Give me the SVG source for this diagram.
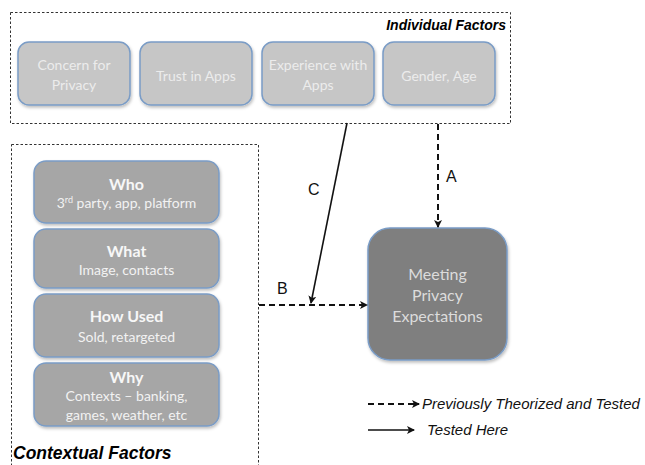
<svg xmlns="http://www.w3.org/2000/svg" width="645" height="465" viewBox="0 0 645 465">
<style>
.frame{fill:none;stroke:#333;stroke-width:1;stroke-dasharray:2.5,2}
.top{fill:#c6c6c6;stroke:#7a9cc6;stroke-width:1.5}
.ctx{fill:#a6a6a6;stroke:#7a9cc6;stroke-width:1.5}
.out{fill:#7f7f7f;stroke:#7a9cc6;stroke-width:1.5}
.tt{font-family:Lato,"Open Sans",sans-serif;font-size:14px;fill:#ececec;text-anchor:middle}
.ct{font-family:Lato,"Open Sans",sans-serif;font-size:14px;fill:#f2f2f2;text-anchor:middle}
.ch{font-family:Lato,"Open Sans",sans-serif;font-size:16px;font-weight:bold;fill:#f7f7f7;text-anchor:middle}
.ot{font-family:Lato,"Open Sans",sans-serif;font-size:16px;fill:#dcdcdc;text-anchor:middle}
.lab{font-family:"Liberation Sans",Arial,sans-serif;font-size:16px;fill:#111}
.ttl{font-family:"Liberation Sans",Arial,sans-serif;font-weight:bold;font-style:italic;fill:#000}
.leg{font-family:"Liberation Sans",Arial,sans-serif;font-style:italic;font-size:15px;fill:#111}
.dash{fill:none;stroke:#111;stroke-width:2;stroke-dasharray:6,4}
.solid{fill:none;stroke:#111;stroke-width:1.6}
</style>
<defs>
<marker id="ah" markerWidth="8" markerHeight="8" refX="7" refY="4" orient="auto" markerUnits="userSpaceOnUse">
<path d="M0,0 L8,4 L0,8 L2,4 Z" fill="#111"/>
</marker>
<filter id="sh" x="-10%" y="-10%" width="125%" height="130%">
<feDropShadow dx="1" dy="2" stdDeviation="1.5" flood-color="#000" flood-opacity="0.25"/>
</filter>
</defs>

<g id="individual-factors">
<rect class="frame" x="10.5" y="12.5" width="500" height="111"/>
<text class="ttl" x="506" y="30" font-size="14" text-anchor="end">Individual Factors</text>
</g>
<g id="concern">
<rect class="top" x="18" y="42" width="112" height="63" rx="11" filter="url(#sh)"/>
<text class="tt" x="74" y="70">Concern for</text>
<text class="tt" x="74" y="90">Privacy</text>
</g>
<g id="trust">
<rect class="top" x="140" y="42" width="112" height="63" rx="11" filter="url(#sh)"/>
<text class="tt" x="196" y="81">Trust in Apps</text>
</g>
<g id="experience">
<rect class="top" x="262" y="42" width="112" height="63" rx="11" filter="url(#sh)"/>
<text class="tt" x="318" y="70">Experience with</text>
<text class="tt" x="318" y="90">Apps</text>
</g>
<g id="gender">
<rect class="top" x="383" y="42" width="112" height="63" rx="11" filter="url(#sh)"/>
<text class="tt" x="439" y="81">Gender, Age</text>
</g>

<g id="contextual-factors">
<rect class="frame" x="11.5" y="144.5" width="247" height="330"/>
<text class="ttl" x="13" y="459" font-size="17.5">Contextual Factors</text>
</g>
<g id="who">
<rect class="ctx" x="34" y="161" width="185" height="62" rx="12" filter="url(#sh)"/>
<text class="ch" x="126.5" y="190">Who</text>
<text class="ct" x="126.5" y="208">3<tspan font-size="9" dy="-5">rd</tspan><tspan dy="5"> party, app, platform</tspan></text>
</g>
<g id="what">
<rect class="ctx" x="34" y="229" width="185" height="59" rx="12" filter="url(#sh)"/>
<text class="ch" x="126.5" y="257">What</text>
<text class="ct" x="126.5" y="275">Image, contacts</text>
</g>
<g id="how-used">
<rect class="ctx" x="34" y="294" width="185" height="63" rx="12" filter="url(#sh)"/>
<text class="ch" x="126.5" y="322">How Used</text>
<text class="ct" x="126.5" y="342">Sold, retargeted</text>
</g>
<g id="why">
<rect class="ctx" x="34" y="363" width="185" height="63" rx="12" filter="url(#sh)"/>
<text class="ch" x="126.5" y="383">Why</text>
<text class="ct" x="126.5" y="401">Contexts – banking,</text>
<text class="ct" x="126.5" y="420">games, weather, etc</text>
</g>

<g id="meeting">
<rect class="out" x="368" y="228" width="139" height="132" rx="22" filter="url(#sh)"/>
<text class="ot" x="437.5" y="280">Meeting</text>
<text class="ot" x="437.5" y="301">Privacy</text>
<text class="ot" x="437.5" y="322">Expectations</text>
</g>

<g id="connectors">
<line class="dash" x1="438" y1="124" x2="438" y2="227" marker-end="url(#ah)"/>
<text class="lab" x="446" y="182">A</text>
<line class="dash" x1="259" y1="305" x2="367" y2="305" marker-end="url(#ah)"/>
<text class="lab" x="277" y="294">B</text>
<line class="solid" x1="347" y1="123" x2="311" y2="303" marker-end="url(#ah)"/>
<text class="lab" x="308" y="195">C</text>
</g>

<g id="legend">
<line class="dash" x1="368" y1="404" x2="419" y2="404" marker-end="url(#ah)"/>
<text class="leg" x="422" y="409">Previously Theorized and Tested</text>
<line class="solid" x1="368" y1="430" x2="414" y2="430" marker-end="url(#ah)"/>
<text class="leg" x="427" y="435">Tested Here</text>
</g>
</svg>
